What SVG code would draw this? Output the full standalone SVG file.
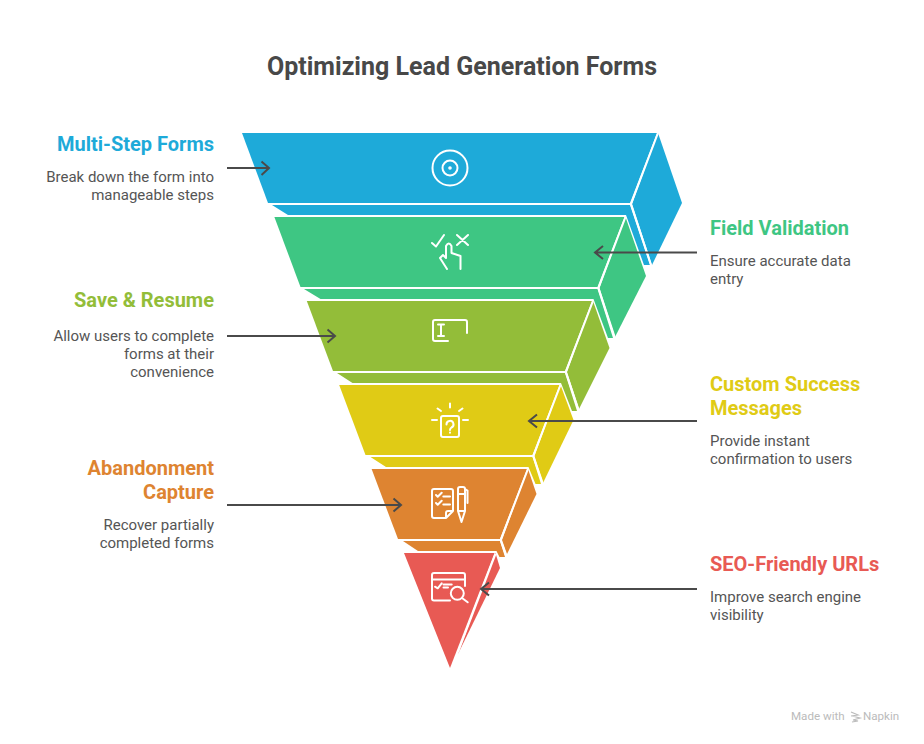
<svg xmlns="http://www.w3.org/2000/svg" width="924" height="744" viewBox="0 0 924 744">
<style>
text{font-family:Roboto,"Liberation Sans",sans-serif}
.title{font-size:25px;font-weight:700;fill:#484848;text-anchor:middle}
.h{font-size:20px;font-weight:700}
.b{font-size:15px;fill:#555}
.e{text-anchor:end}
.w{fill:none;stroke:#fff;stroke-width:2}
.i{fill:none;stroke:#fff;stroke-width:2;stroke-linecap:round;stroke-linejoin:round}
.a{fill:none;stroke:#4a4a4a;stroke-width:2}
.wm{font-size:11.600px;fill:#bbb}
</style>
<rect width="924" height="744" fill="#fff"/>
<text class="title" x="462" y="75">Optimizing Lead Generation Forms</text>

<g id="level-1" fill="#1eaad9">
<path d="M242 133H657L630 203H268Z"/>
<path d="M658 133L682 203L652 265L632 204Z"/>
<path d="M272 205H630L650 265H644L626 215H288Z"/>
<path class="w" d="M268 204H631L658 133M631 204L651 265"/>
<g class="i"><circle cx="450" cy="168" r="17.500"/><circle cx="450" cy="168" r="7.500"/><circle cx="450" cy="168" r="0.800"/></g>
</g>
<g id="level-2" fill="#3ec683">
<path d="M274.400 217H624.500L597.500 287H300.500Z"/>
<path d="M625.500 217L646 276L615 337L599.500 288Z"/>
<path d="M304 289H597.500L613 338H608L593.500 299H320.500Z"/>
<path class="w" d="M300 288H598.400L625.500 217M598.400 288L615 338"/>
<path class="i" d="M432 243L436 246.500L444 235M457 235L468 245M468 235L457 245M447 269L440 258L443 255L446 258V246Q448.800 241 451.500 246V253L460.500 256V269"/>
</g>
<g id="level-3" fill="#93bd39">
<path d="M306.800 301H592L565 371H333Z"/>
<path d="M593 301L609.500 348L579 409L567 372Z"/>
<path d="M337 373H565L577 411H572L561 383H352.500Z"/>
<path class="w" d="M332 372H565.800L593 301M565.800 372L579 411"/>
<path class="i" d="M448 341H435Q433 341 433 339V322Q433 320 435 320H465Q467 320 467 322V333M438 324.500H444M441 324.500V336M438 336H444"/>
</g>
<g id="level-4" fill="#e0cb15">
<path d="M339.200 385H559.500L532.500 455H365.500Z"/>
<path d="M560.500 385L573.500 420L543 483L534.500 456Z"/>
<path d="M370.500 457H532.500L541 484H535.500L528.500 467H386Z"/>
<path class="w" d="M365 456H533.200L560.500 385M533.200 456L543 484"/>
<path class="i" d="M450 403.500V407.500M437.500 408.500L441 411M462.500 408.500L459 411M432 420H437M463 420H468M443 416H457Q459 416 459 418V435Q459 437 457 437H443Q441 437 441 435V418Q441 416 443 416ZM446.500 424.500A3.500 3.500 0 1 1 451.500 427.500Q450 428.500 450 430M450 432.500V432.800"/>
</g>
<g id="level-5" fill="#de8431">
<path d="M371.600 469H527L500 539H398Z"/>
<path d="M528 469L536.500 494L507 554L502 540Z"/>
<path d="M403 541H500L505 557H499.500L496.500 551H418Z"/>
<path class="w" d="M397 540H500.600L528 469M500.600 540L506.500 557"/>
<path class="i" d="M446 518H434Q432 518 432 516V491Q432 489 434 489H451Q453 489 453 491V511L446 518V513Q446 511 448 511H453M436 495L437.700 496.700L441.700 492.700M443.300 496.500H450M436 503L437.700 504.700L441.700 500.700M443.300 504.500H450M458 494V489Q458 487 460 487H463Q465 487 465 489V511L461.500 522L458 511ZM458 494H465M458 511H465M465 489L467.500 490.500V503"/>
</g>
<g id="level-6" fill="#e85a54">
<path d="M404 553H494.500L450 668Z"/>
<path d="M495.500 553L500 568L458 654Z"/>
<path class="w" d="M495.500 554L458 652"/>
<path class="i" d="M450 600.500H434Q432 600.500 432 598.500V575Q432 573 434 573H463Q465 573 465 575V586M432 579.500H465M435 586.700L437.700 588.300L441.700 583.300M443.500 584.500H451.700M443.500 587.500H448M462 598L467.700 602.300"/>
<circle class="i" cx="457.300" cy="593.300" r="6.500"/>
</g>

<g id="connectors">
<path class="a" d="M227 168H269M261.500 161.500L269 168L261.500 175"/>
<path class="a" d="M697 252.500H595M603 246L595 252.500L603 259"/>
<path class="a" d="M227 336H335M327.500 329.500L335 336L327.500 342.500"/>
<path class="a" d="M697 421H529M537 414.500L529 421L537 427.500"/>
<path class="a" d="M227 505H401M393.500 498.500L401 505L393.500 511.500"/>
<path class="a" d="M697 589H481M489 582.500L481 589L489 595.500"/>
</g>

<g id="label-1"><text class="h e" x="214" y="151" fill="#1eaad9">Multi-Step Forms</text>
<text class="b e" x="214" y="182">Break down the form into</text><text class="b e" x="214" y="200">manageable steps</text></g>
<g id="label-2"><text class="h" x="710" y="235" fill="#3ec683">Field Validation</text>
<text class="b" x="710" y="266">Ensure accurate data</text><text class="b" x="710" y="284">entry</text></g>
<g id="label-3"><text class="h e" x="214" y="307" fill="#93bd39">Save &amp; Resume</text>
<text class="b e" x="214" y="341">Allow users to complete</text><text class="b e" x="214" y="359">forms at their</text><text class="b e" x="214" y="377">convenience</text></g>
<g id="label-4"><text class="h" x="710" y="391" fill="#e0cb15">Custom Success</text><text class="h" x="710" y="415" fill="#e0cb15">Messages</text>
<text class="b" x="710" y="446">Provide instant</text><text class="b" x="710" y="464">confirmation to users</text></g>
<g id="label-5"><text class="h e" x="214" y="475" fill="#de8431">Abandonment</text><text class="h e" x="214" y="499" fill="#de8431">Capture</text>
<text class="b e" x="214" y="530">Recover partially</text><text class="b e" x="214" y="548">completed forms</text></g>
<g id="label-6"><text class="h" x="710" y="571" fill="#e85a54">SEO-Friendly URLs</text>
<text class="b" x="710" y="602">Improve search engine</text><text class="b" x="710" y="620">visibility</text></g>

<g id="watermark"><text class="wm" x="791" y="720">Made with</text><text class="wm" x="863" y="720">Napkin</text>
<path d="M851 712L858 715L851 716M852 716L860 718L853 720M853 720L858 721L852 722" fill="none" stroke="#bbb" stroke-width="1.200"/></g>
</svg>
